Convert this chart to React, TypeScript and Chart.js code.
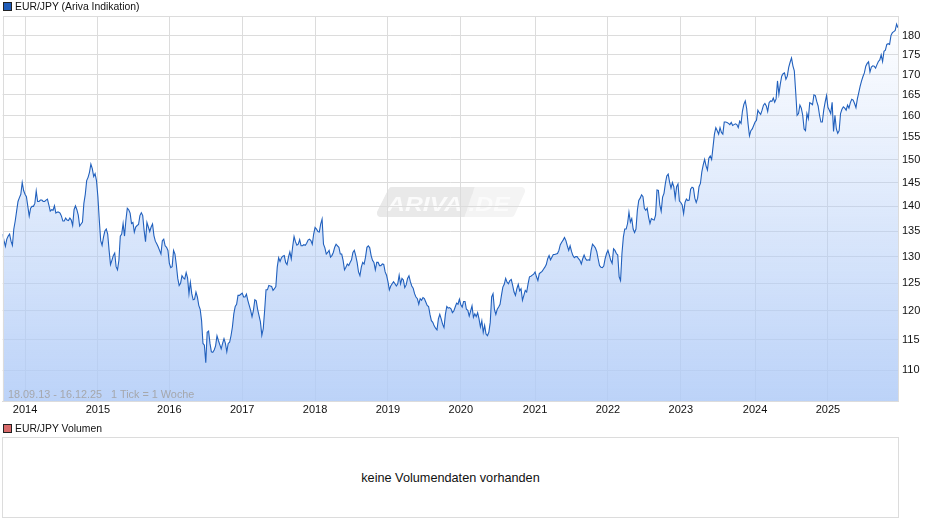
import { useEffect, useRef } from "react";
import { Chart, registerables } from "chart.js";
Chart.register(...registerables);

// weekly EUR/JPY closes, split by calendar year
const closes2013 = [134.4, 133.1, 132, 133.4, 134, 134.4, 133, 132.2, 135.4, 137, 139, 141, 141.8, 142.5, 145, 143.3];
const closes2014 = [142.5, 142, 140, 138, 139.6, 140, 140, 140.6, 143.2, 141, 141, 141.3, 141.3, 141, 141, 141.3, 141.5, 140.3, 139, 139.3, 139.2, 140.1, 138.6, 138.8, 138.8, 138.6, 138, 137, 137, 137.6, 137.2, 137.1, 137.6, 137.2, 136.1, 139.3, 140.1, 139.3, 138.2, 136, 136.4, 136.8, 140.6, 142.5, 145.4, 146.1, 147.2, 149, 148, 146.3, 146.9, 145.4];
const closes2015 = [142, 137.2, 133.1, 132.2, 133.8, 135, 135.4, 134.4, 131.2, 128.5, 129.3, 130.2, 130.7, 128.1, 127.5, 129.3, 134, 134.4, 136.5, 134, 137.2, 139.6, 139.3, 138.6, 136.5, 136.7, 134.8, 135.8, 136.1, 136.3, 138.1, 138.7, 138.1, 135.1, 132.9, 136.7, 135.8, 134.9, 135.8, 136.4, 134.1, 133, 132.5, 131.9, 131.2, 130.5, 133.1, 133.4, 132.1, 131.8, 131.2];
const closes2016 = [128.7, 127.9, 128.1, 131.2, 130.5, 128.4, 125.9, 124.6, 125, 126.4, 126, 125.8, 127, 126, 123.1, 125.2, 123.1, 122, 122.1, 123.4, 122.5, 121, 120.3, 118.3, 114.4, 114.1, 111.2, 116.3, 116.5, 114.4, 113, 112.9, 113.3, 114, 115.7, 114.9, 114.2, 113.5, 114.4, 115.2, 114.4, 113, 114.4, 114.6, 115.7, 117.2, 119.5, 120.8, 121.2, 122.8, 122.8, 123];
const closes2017 = [123.2, 122.5, 122.5, 123, 121.9, 121, 120.1, 119, 120.1, 122, 121.8, 120.3, 119.2, 118.1, 115.8, 116.9, 120.1, 123.8, 123.8, 124.6, 124.5, 124.4, 123.7, 124, 124.4, 128, 129.8, 129.1, 129.8, 130.1, 130.2, 128.9, 128.5, 129.9, 130.9, 129.6, 131.9, 133.9, 132.9, 132.2, 132.4, 133.3, 132.1, 132.1, 132.3, 132.2, 132.6, 133.2, 133.4, 133.1, 132.4, 134.4];
const closes2018 = [135.7, 135.4, 134.9, 134.8, 136.4, 137.4, 132.4, 131.7, 130.5, 130.8, 131.2, 129.9, 130.2, 130.8, 131.8, 132.4, 132.1, 131.8, 130.5, 130.5, 129.3, 127.5, 128, 128.6, 128.3, 128.9, 129.4, 130.8, 131.2, 130.2, 128.9, 127.1, 126.4, 128, 128.9, 128.6, 129.9, 131.8, 132.1, 131.7, 130.2, 129.3, 128.9, 127.5, 128.9, 128.9, 128.3, 128.3, 128.6, 128.5, 127.1, 126.5];
const closes2019 = [125.3, 123.8, 124.5, 124.9, 125.3, 124.9, 124.5, 124.9, 126.5, 124.9, 125.9, 125.6, 124.2, 124.7, 125.9, 126.4, 125.3, 124.5, 124.1, 123.1, 122.5, 122.2, 121.2, 122.2, 121.9, 122.4, 122.2, 121.6, 121, 120.8, 119.4, 118.3, 118, 117.4, 117, 116.7, 118.6, 119.4, 118.6, 117.7, 117.1, 119.4, 120.8, 120.5, 120.6, 120.4, 119.7, 120, 120.7, 121.4, 121.2, 122.1];
const closes2020 = [121.1, 120.7, 121.7, 121.7, 120.3, 120.1, 119.1, 120, 120.9, 118.9, 119.5, 119, 119.7, 118.6, 117.2, 118.3, 116.3, 117.5, 116, 115.7, 116.3, 118, 122.5, 123.1, 120.3, 119.4, 120.3, 120.7, 121.2, 122.8, 124.3, 124.8, 125.9, 125.2, 124.9, 125.5, 125.7, 124.6, 123.4, 122.8, 124, 124.8, 123.6, 124, 121.9, 122.8, 123.7, 123.4, 124.9, 126.2, 126.3, 126.5, 126.7];
const closes2021 = [127.1, 126.2, 125.5, 126.8, 127, 127.2, 127.6, 128, 128.5, 129.6, 130.2, 129.4, 129.9, 130.4, 130.4, 130.5, 130.6, 131.2, 132.3, 132.8, 133.2, 133.7, 133.1, 132.1, 131.2, 132.1, 131, 130.2, 129.8, 130, 130, 129.6, 129.3, 128.6, 129.6, 130.3, 129.6, 129.3, 129.4, 129.3, 131.2, 132.4, 132.1, 131.7, 131, 129.6, 128.3, 128, 127.9, 128.2, 129.6, 130.6];
const closes2022 = [131.2, 130.3, 129.3, 128.7, 131.5, 131.2, 130.6, 130.3, 126.2, 125.5, 130.6, 133.8, 135.4, 135.4, 136.5, 138.8, 136.8, 137.5, 135.4, 134.7, 135.4, 139.2, 141.2, 141.7, 142.4, 142, 139.6, 139.2, 139.6, 137.8, 136.5, 137.5, 137.3, 137.2, 138.2, 143.4, 143.3, 140.3, 139, 141.9, 142.7, 144.8, 146.4, 146.8, 145.1, 143.8, 145, 144.1, 141.7, 144.1, 144.7, 141.1];
const closes2023 = [140.8, 140.3, 138.5, 140.8, 141.5, 141.2, 141.3, 143.6, 144, 143.8, 141.7, 140.8, 141.7, 144.1, 144.8, 147.3, 148.8, 150, 148.6, 147.7, 150.3, 150.8, 150, 152.8, 155.7, 157.2, 156.5, 155.7, 157.2, 156.1, 155.7, 158.5, 158.5, 158.4, 158.2, 157.9, 158.4, 157.7, 157.9, 158.1, 157.9, 157.2, 158.7, 158.2, 161.1, 162.7, 163.5, 161.7, 158.1, 155.3, 156.5, 156.9, 157.7];
const closes2024 = [158.5, 158.9, 161.3, 160.7, 160.3, 161.3, 162.5, 162.9, 162.3, 161, 163.1, 163.5, 163.4, 164.2, 163.2, 164, 168.4, 165.2, 167.6, 169.6, 170.2, 170.4, 168.8, 169.6, 171.8, 173.1, 174.2, 172.2, 170.9, 165.6, 160.1, 160.5, 162.5, 161.8, 160.1, 156.9, 156.5, 160.5, 159.3, 163.1, 162.9, 162.6, 165, 164.8, 163.4, 162.3, 160.1, 158.5, 158.5, 161.3, 163.2, 164.8];
const closes2025 = [162, 161.3, 160.5, 163.2, 156.3, 160.1, 156.9, 155.9, 156.5, 160.5, 161.5, 162.1, 161.8, 161.3, 162.5, 161.8, 163.1, 163.9, 163.7, 162.9, 161.9, 164, 165.5, 167.1, 168.4, 169.5, 170.4, 172.1, 172.8, 173.2, 170.6, 171.9, 172.2, 172.1, 171.6, 172.5, 173.3, 173.7, 175, 173.3, 175.9, 176.2, 177.7, 177.9, 177.7, 180.1, 180.8, 181.1, 181.4, 183.1, 182.1];

const weeklyCloses = [
  ...closes2013, ...closes2014, ...closes2015, ...closes2016, ...closes2017, ...closes2018, ...closes2019,
  ...closes2020, ...closes2021, ...closes2022, ...closes2023, ...closes2024, ...closes2025,
];

const yearLabels = ["2014", "2015", "2016", "2017", "2018", "2019", "2020", "2021", "2022", "2023", "2024", "2025"];
const yearStartWeeks = [16, 68, 119, 171, 223, 275, 327, 380, 432, 484, 537, 589];
const priceTicks = [110, 115, 120, 125, 130, 135, 140, 145, 150, 155, 160, 165, 170, 175, 180];

const FONT = "'Liberation Sans', Arial, sans-serif";

// ARIVA.DE logo behind the grid, and the frame around the plot
const watermark = {
  id: "watermark",
  beforeDraw(chart: Chart) {
    const c = chart.ctx;
    c.save();
    const shape = () => {
      c.beginPath();
      c.moveTo(392, 191);
      c.lineTo(521, 191);
      c.lineTo(511, 213);
      c.lineTo(381, 213);
      c.closePath();
    };
    c.lineJoin = "round";
    c.lineWidth = 8;
    c.fillStyle = c.strokeStyle = "#f4f4f4";
    shape();
    c.stroke();
    c.fill();
    // darker left part of the plate, cut along the slant
    c.beginPath();
    c.moveTo(370, 180);
    c.lineTo(477, 180);
    c.lineTo(462, 224);
    c.lineTo(370, 224);
    c.closePath();
    c.clip();
    c.fillStyle = c.strokeStyle = "#e9e9e9";
    shape();
    c.stroke();
    c.fill();
    c.restore();

    c.save();
    c.font = `italic bold 21px ${FONT}`;
    c.textBaseline = "alphabetic";
    c.fillStyle = "#fbfbfb";
    c.translate(387, 210.5);
    c.scale(1.18, 1);
    c.fillText("ARIVA", 0, 0);
    c.fillText(".DE", 69, 0);
    c.restore();
  },
  afterDraw(chart: Chart) {
    const { left, top, width, height } = chart.chartArea;
    const c = chart.ctx;
    c.save();
    c.strokeStyle = "#dcdcdc";
    c.lineWidth = 1;
    c.strokeRect(Math.round(left) + 0.5, Math.round(top) + 0.5, Math.round(width), Math.round(height));
    c.restore();
  },
};

function PriceChart() {
  const canvasRef = useRef<HTMLCanvasElement>(null);

  useEffect(() => {
    if (!canvasRef.current) return;
    const chart = new Chart(canvasRef.current, {
      type: "line",
      data: {
        datasets: [
          {
            data: weeklyCloses.map((y, x) => ({ x, y })),
            borderColor: "#2160bd",
            borderWidth: 1.1,
            pointRadius: 0,
            tension: 0,
            fill: "start",
            backgroundColor: (ctx: any) => {
              const area = ctx.chart.chartArea;
              if (!area) return "transparent";
              const g = ctx.chart.ctx.createLinearGradient(0, area.top, 0, area.bottom);
              g.addColorStop(0, "rgba(176,203,247,0)");
              g.addColorStop(1, "rgba(176,203,247,0.85)");
              return g;
            },
          },
        ],
      },
      options: {
        animation: false,
        responsive: false,
        layout: { padding: { top: 16, left: 2.6, right: 0, bottom: 0 } },
        plugins: { legend: { display: false }, tooltip: { enabled: false } },
        scales: {
          x: {
            type: "linear",
            min: 0,
            max: weeklyCloses.length - 1,
            afterBuildTicks: (axis: any) => {
              axis.ticks = yearStartWeeks.map((value) => ({ value }));
            },
            afterFit: (axis: any) => {
              axis.height = 19;
            },
            grid: { color: "#dcdcdc", drawTicks: false },
            border: { color: "#dcdcdc" },
            ticks: {
              autoSkip: false,
              maxRotation: 0,
              padding: 2,
              color: "#111",
              font: { family: FONT, size: 11 },
              callback: (value: any) => yearLabels[yearStartWeeks.indexOf(Number(value))],
            },
          },
          y: {
            type: "logarithmic",
            position: "right",
            min: 105.1,
            max: 185.3,
            afterBuildTicks: (axis: any) => {
              axis.ticks = priceTicks.map((value) => ({ value }));
            },
            afterFit: (axis: any) => {
              axis.width = 42;
            },
            grid: { color: "#dcdcdc", drawTicks: false },
            border: { color: "#dcdcdc" },
            ticks: {
              autoSkip: false,
              padding: 4,
              color: "#111",
              font: { family: FONT, size: 11 },
              callback: (value: any) => String(value),
            },
          },
        },
      },
      plugins: [watermark],
    } as any);

    return () => {
      chart.destroy();
    };
  }, []);

  return <canvas ref={canvasRef} width={940} height={420} style={{ display: "block" }} />;
}

const textStyle = { position: "absolute", font: `10.4px ${FONT}`, color: "#111", whiteSpace: "pre" } as const;

function Swatch({ top, color }: { top: number; color: string }) {
  return (
    <div
      style={{
        position: "absolute",
        left: 3,
        top,
        width: 7,
        height: 7,
        background: color,
        border: "1px solid #222",
      }}
    />
  );
}

export default function App() {
  return (
    <div style={{ position: "absolute", left: 0, top: 0, width: 940, height: 526, background: "#fff" }}>
      <PriceChart />
      <Swatch top={2} color="#1f5cb8" />
      <div style={{ ...textStyle, left: 15, top: 1 }}>EUR/JPY (Ariva Indikation)</div>
      <div style={{ ...textStyle, left: 8, top: 388, fontSize: 10.85, color: "#a5a7ac" }}>
        {"18.09.13 - 16.12.25   1 Tick = 1 Woche"}
      </div>
      <Swatch top={424} color="#d86a6a" />
      <div style={{ ...textStyle, left: 15, top: 423 }}>EUR/JPY Volumen</div>
      <div
        style={{
          position: "absolute",
          left: 2,
          top: 437,
          width: 895,
          height: 79,
          border: "1px solid #dcdcdc",
          font: `12.7px ${FONT}`,
          color: "#111",
          display: "flex",
          alignItems: "center",
          justifyContent: "center",
        }}
      >
        keine Volumendaten vorhanden
      </div>
    </div>
  );
}
